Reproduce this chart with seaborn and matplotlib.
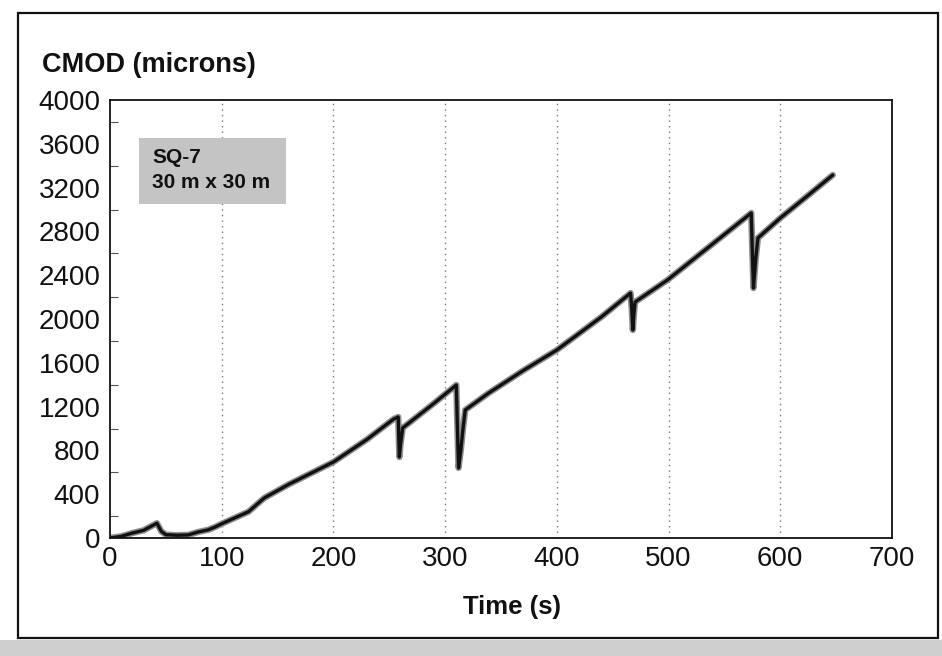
import matplotlib
matplotlib.use("Agg")
import matplotlib.pyplot as plt
from matplotlib.patches import Rectangle
import seaborn as sns
import pandas as pd

# ---- data ----
time_s = [0, 10, 20, 30, 42, 46, 50, 60, 70, 79, 88, 94, 100, 124, 138, 160,
          200, 230, 254, 258, 259, 260, 262, 290, 310, 311, 312, 314, 316, 318,
          339, 370, 400, 440, 466, 467, 468, 469, 470, 499, 540, 574, 575, 576,
          578, 580, 600, 625, 647]
cmod_um = [0, 15, 45, 70, 135, 60, 30, 25, 28, 55, 75, 100, 130, 240, 365, 490,
           694, 900, 1087, 1105, 740, 850, 1005, 1230, 1397, 1000, 640, 800, 1000, 1169,
           1324, 1530, 1717, 2020, 2237, 2100, 1900, 2050, 2155, 2356, 2690, 2968, 2600, 2283,
           2550, 2740, 2922, 3130, 3315]
x_ticks = [0, 100, 200, 300, 400, 500, 600, 700]
y_ticks = [0, 400, 800, 1200, 1600, 2000, 2400, 2800, 3200, 3600, 4000]
title = "CMOD (microns)"
xlabel = "Time (s)"
legend_lines = ["SQ-7", "30 m x 30 m"]

df = pd.DataFrame({"t": time_s, "v": cmod_um})

sns.set_theme(style="white")
plt.rcParams["font.family"] = ["Liberation Sans", "DejaVu Sans"]

W, H = 942, 656
fig = plt.figure(figsize=(W / 100, H / 100), dpi=100)
fig.patch.set_facecolor("white")

ax = fig.add_axes([110 / W, 1 - 538 / H, (892 - 110) / W, (538 - 100) / H])

sns.lineplot(data=df, x="t", y="v", ax=ax, color="#8f8f8f", linewidth=4.6,
             estimator=None, sort=False)
sns.lineplot(data=df, x="t", y="v", ax=ax, color="#111111", linewidth=2.4,
             estimator=None, sort=False)

ax.set_xlim(0, 700)
ax.set_ylim(0, 4000)
ax.set_xticks(x_ticks)
ax.set_yticks(y_ticks)
ax.set_yticks(list(range(200, 4000, 400)), minor=True)
ax.set_xticklabels([str(v) for v in x_ticks], fontsize=20)
ax.set_yticklabels([str(v) for v in y_ticks], fontsize=20)
ax.tick_params(axis="x", length=0, pad=6, colors="#111111")
ax.tick_params(axis="y", which="major", direction="in", length=6, width=0.8,
               color="#555555", pad=7, labelcolor="#111111")
ax.tick_params(axis="y", which="minor", direction="in", length=6, width=0.8,
               color="#555555", left=True)
ax.set_xlabel("")
ax.set_ylabel("")

for gx in x_ticks[1:-1]:
    ax.axvline(gx, color="#777777", linestyle=(0, (1, 3)), linewidth=1.0, zorder=0)

for s in ax.spines.values():
    s.set_color("#111111")
    s.set_linewidth(1.3)

# title and axis label
fig.text(42 / W, 1 - 72 / H, title, fontsize=19.5, fontweight="bold",
         ha="left", va="baseline", color="#111111")
fig.text(512 / W, 1 - 614 / H, xlabel, fontsize=18.5, fontweight="bold",
         ha="center", va="baseline", color="#111111")

# legend-like label box
fig.patches.append(Rectangle((139 / W, 1 - 204 / H), 147 / W, 66 / H,
                             transform=fig.transFigure, facecolor="#c4c4c4",
                             edgecolor="none", zorder=5))
fig.text(152 / W, 1 - 163 / H, legend_lines[0], fontsize=15, fontweight="bold",
         ha="left", va="baseline", color="#111111", zorder=6)
fig.text(152 / W, 1 - 188 / H, legend_lines[1], fontsize=15, fontweight="bold",
         ha="left", va="baseline", color="#111111", zorder=6)

# outer frame and bottom shadow band
fig.patches.append(Rectangle((18 / W, 1 - 638 / H), (938 - 18) / W, (638 - 13) / H,
                             transform=fig.transFigure, fill=False,
                             edgecolor="#111111", linewidth=1.6))
fig.patches.append(Rectangle((0, 0), 1, 16 / H, transform=fig.transFigure,
                             facecolor="#cfcfcf", edgecolor="none"))

fig.savefig("out.png", dpi=100)
